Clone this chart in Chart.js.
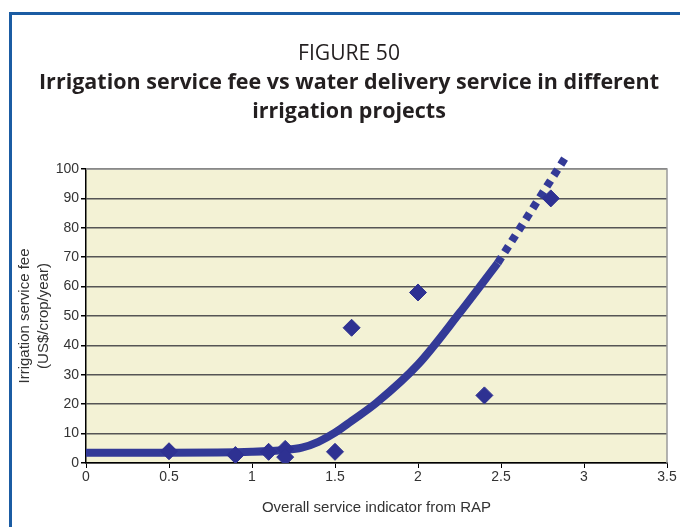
<!DOCTYPE html>
<html>
<head>
<meta charset="utf-8">
<script src="https://cdn.jsdelivr.net/npm/chart.js@4.4.1/dist/chart.umd.min.js"></script>
<style>
  body { margin: 0; background: #fff; }
  #wrap { position: relative; width: 680px; height: 527px; overflow: hidden; }
  #frame { position: absolute; left: 9px; top: 12px; width: 700px; height: 600px;
           border-left: 3px solid #1b5ca3; border-top: 3px solid #1b5ca3; }
  canvas { position: absolute; left: 0; top: 0; }
</style>
</head>
<body>
<div id="wrap">
  <div id="frame"></div>
  <canvas id="myChart" width="680" height="527"></canvas>
</div>
<script>
// observed projects
const serviceIndicator = [0.5, 0.9, 1.1, 1.2, 1.2, 1.5, 1.6, 2.0, 2.4, 2.8];
const serviceFee = [4, 2.7, 3.8, 4.8, 2, 3.8, 46, 58, 23, 90];

// fitted trend
const trendX = [0, 0.5, 1.0, 1.2, 1.3, 1.4, 1.5, 1.6, 1.75, 2.0, 2.25, 2.48];
const trendY = [3.5, 3.5, 3.8, 4.4, 5.2, 7.2, 10.3, 14.3, 20.5, 33.5, 51, 68];

// dotted extension of the trend
const extX = [2.48, 2.9];
const extY = [68, 105];

const xTicks = [0, 0.5, 1, 1.5, 2, 2.5, 3, 3.5];

const titleLines = ['FIGURE 50', 'Irrigation service fee vs water delivery service in different', 'irrigation projects'];

const blue = '#333a97';
const textColor = '#333333';

function toPoints(xs, ys) {
    return xs.map((x, i) => ({ x: x, y: ys[i] }));
}

// yellow plot background + grey top/right frame
const plotArea = {
    id: 'plotArea',
    beforeDraw(chart) {
        const { ctx, chartArea: a } = chart;
        ctx.save();
        ctx.fillStyle = '#f3f2d5';
        ctx.fillRect(a.left, a.top, a.right - a.left, a.bottom - a.top);
        ctx.restore();
    },
    beforeDatasetsDraw(chart) {
        const { ctx, chartArea: a } = chart;
        ctx.save();
        ctx.strokeStyle = '#9a9a9a';
        ctx.lineWidth = 1.5;
        ctx.beginPath();
        ctx.moveTo(a.left, a.top);
        ctx.lineTo(a.right, a.top);
        ctx.lineTo(a.right, a.bottom);
        ctx.stroke();
        ctx.restore();
    }
};

// condensed heading, centred on the frame
const heading = {
    id: 'heading',
    afterDraw(chart) {
        const ctx = chart.ctx;
        const cx = 349;
        const rows = [
            { text: titleLines[0], font: '21px "Open Sans"', y: 60, width: 102 },
            { text: titleLines[1], font: 'bold 21px "Open Sans"', y: 89, width: 620 },
            { text: titleLines[2], font: 'bold 21px "Open Sans"', y: 118, width: null }
        ];
        ctx.save();
        ctx.fillStyle = '#231f20';
        ctx.textAlign = 'center';
        ctx.textBaseline = 'alphabetic';
        ctx.font = rows[1].font;
        const squeeze = rows[1].width / ctx.measureText(rows[1].text).width;
        rows.forEach(r => {
            ctx.font = r.font;
            const sx = r.width ? r.width / ctx.measureText(r.text).width : squeeze;
            ctx.save();
            ctx.translate(cx, r.y);
            ctx.scale(sx, 1);
            ctx.fillText(r.text, 0, 0);
            ctx.restore();
        });
        ctx.restore();
    }
};

const data = {
    datasets: [
        {
            label: 'Trend',
            data: toPoints(trendX, trendY),
            showLine: true,
            borderColor: blue,
            borderWidth: 8,
            pointRadius: 0,
            cubicInterpolationMode: 'monotone',
            order: 3
        },
        {
            label: 'Trend extension',
            data: toPoints(extX, extY),
            showLine: true,
            borderColor: blue,
            borderWidth: 8,
            borderDash: [7, 6],
            borderCapStyle: 'butt',
            pointRadius: 0,
            clip: false,
            order: 2
        },
        {
            label: 'Projects',
            data: toPoints(serviceIndicator, serviceFee),
            pointStyle: 'rectRot',
            pointRadius: 8.5,
            backgroundColor: '#2e3192',
            borderColor: '#2e3192',
            borderWidth: 1,
            order: 1
        }
    ]
};

const config = {
    type: 'scatter',
    data: data,
    plugins: [plotArea, heading],
    options: {
        responsive: false,
        animation: false,
        layout: { padding: { left: 12, right: 13, top: 169, bottom: 0 } },
        plugins: {
            legend: { display: false },
            tooltip: { enabled: false }
        },
        scales: {
            x: {
                type: 'linear',
                min: 0,
                max: 3.5,
                afterBuildTicks: (scale) => { scale.ticks = xTicks.map(v => ({ value: v })); },
                afterFit: (scale) => { scale.height = 64; },
                grid: { drawOnChartArea: false, drawTicks: true, tickLength: 5, color: '#000' },
                border: { color: '#000', width: 1.5 },
                ticks: {
                    color: textColor,
                    font: { family: 'Liberation Sans', size: 14 },
                    padding: 1,
                    callback: (value) => String(value)
                },
                title: {
                    display: true,
                    text: 'Overall service indicator from RAP',
                    color: textColor,
                    font: { family: 'Liberation Sans', size: 15 },
                    padding: { top: 0, bottom: 10 }
                }
            },
            y: {
                min: 0,
                max: 100,
                afterFit: (scale) => { scale.width = 74; },
                grid: { color: '#555', lineWidth: 1.5, tickLength: 5, tickColor: '#000' },
                border: { color: '#000', width: 1.5 },
                ticks: { stepSize: 10, color: textColor, font: { family: 'Liberation Sans', size: 14 }, padding: 2 },
                title: {
                    display: true,
                    text: ['Irrigation service fee', '(US$/crop/year)'],
                    color: textColor,
                    font: { family: 'Liberation Sans', size: 15, lineHeight: 1.3 },
                    padding: { top: 3, bottom: 0 }
                }
            }
        }
    }
};

new Chart(document.getElementById('myChart'), config);
</script>
</body>
</html>
